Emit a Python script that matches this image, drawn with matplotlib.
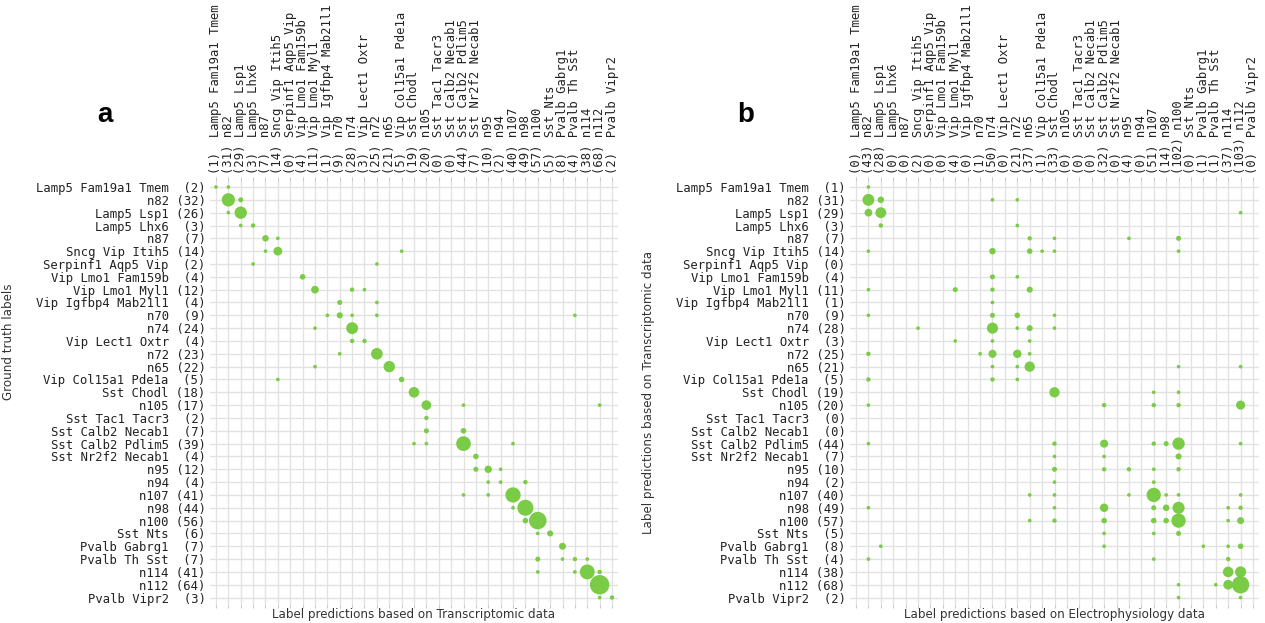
import matplotlib
matplotlib.use("Agg")
import matplotlib.pyplot as plt

names = ["Lamp5 Fam19a1 Tmem", "n82", "Lamp5 Lsp1", "Lamp5 Lhx6", "n87",
         "Sncg Vip Itih5", "Serpinf1 Aqp5 Vip", "Vip Lmo1 Fam159b", "Vip Lmo1 Myl1",
         "Vip Igfbp4 Mab21l1", "n70", "n74", "Vip Lect1 Oxtr", "n72", "n65",
         "Vip Col15a1 Pde1a", "Sst Chodl", "n105", "Sst Tac1 Tacr3", "Sst Calb2 Necab1",
         "Sst Calb2 Pdlim5", "Sst Nr2f2 Necab1", "n95", "n94", "n107", "n98", "n100",
         "Sst Nts", "Pvalb Gabrg1", "Pvalb Th Sst", "n114", "n112", "Pvalb Vipr2"]

truth_counts = [2, 32, 26, 3, 7, 14, 2, 4, 12, 4, 9, 24, 4, 23, 22, 5, 18, 17, 2, 7,
                39, 4, 12, 4, 41, 44, 56, 6, 7, 7, 41, 64, 3]
trans_counts = [1, 31, 29, 3, 7, 14, 0, 4, 11, 1, 9, 28, 3, 25, 21, 5, 19, 20, 0, 0,
                44, 7, 10, 2, 40, 49, 57, 5, 8, 4, 38, 68, 2]
ephys_counts = [0, 43, 28, 0, 0, 2, 0, 0, 4, 0, 1, 50, 0, 21, 37, 1, 33, 0, 0, 0,
                32, 0, 4, 0, 51, 14, 102, 0, 1, 1, 37, 103, 0]

# (column index, count) per row: ground truth (rows) vs transcriptomic prediction (cols)
cells_a = [
    [(0, 1), (1, 1)],
    [(1, 29), (2, 3)],
    [(1, 1), (2, 25)],
    [(2, 1), (3, 2)],
    [(4, 6), (5, 1)],
    [(4, 1), (5, 12), (15, 1)],
    [(3, 1), (13, 1)],
    [(7, 4)],
    [(8, 9), (11, 2), (12, 1)],
    [(10, 3), (13, 1)],
    [(9, 1), (10, 5), (11, 1), (13, 1), (29, 1)],
    [(8, 1), (11, 23)],
    [(11, 2), (12, 2)],
    [(10, 1), (13, 22)],
    [(8, 1), (14, 21)],
    [(5, 1), (15, 4)],
    [(16, 18)],
    [(17, 15), (20, 1), (31, 1)],
    [(17, 2)],
    [(17, 3), (20, 4)],
    [(16, 1), (17, 1), (20, 36), (24, 1)],
    [(21, 4)],
    [(21, 3), (22, 8), (23, 1)],
    [(22, 1), (23, 1), (25, 2)],
    [(20, 1), (22, 1), (24, 39)],
    [(24, 1), (25, 43)],
    [(25, 4), (26, 52)],
    [(26, 1), (27, 5)],
    [(28, 7)],
    [(26, 3), (28, 1), (29, 2), (30, 1)],
    [(26, 1), (29, 1), (30, 37), (31, 2)],
    [(31, 64)],
    [(31, 1), (32, 2)],
]

# transcriptomic prediction (rows) vs electrophysiology prediction (cols)
cells_b = [
    [(1, 1)],
    [(1, 23), (2, 6), (11, 1), (13, 1)],
    [(1, 9), (2, 19), (31, 1)],
    [(2, 2), (13, 1)],
    [(14, 2), (16, 1), (22, 1), (26, 3)],
    [(1, 1), (11, 6), (14, 4), (15, 1), (16, 1), (26, 1)],
    [],
    [(11, 3), (13, 1)],
    [(1, 1), (8, 3), (11, 2), (14, 5)],
    [(11, 1)],
    [(1, 1), (11, 3), (13, 4), (16, 1)],
    [(5, 1), (11, 20), (13, 1), (14, 5), (16, 1)],
    [(8, 1), (11, 1), (14, 1)],
    [(1, 2), (10, 1), (11, 10), (13, 11), (14, 1)],
    [(11, 1), (13, 1), (14, 17), (26, 1), (31, 1)],
    [(1, 2), (11, 2), (13, 1)],
    [(16, 17), (24, 1), (26, 1)],
    [(1, 1), (20, 2), (24, 2), (26, 2), (31, 13)],
    [],
    [],
    [(1, 1), (16, 2), (20, 10), (24, 2), (25, 3), (26, 25), (31, 1)],
    [(16, 1), (20, 1), (26, 5)],
    [(16, 3), (20, 2), (22, 2), (24, 1), (26, 2)],
    [(16, 1), (24, 1)],
    [(14, 1), (16, 1), (22, 1), (24, 34), (25, 1), (26, 1), (31, 1)],
    [(1, 1), (16, 1), (20, 11), (24, 3), (25, 6), (26, 24), (30, 1), (31, 2)],
    [(14, 1), (16, 2), (20, 4), (24, 4), (25, 4), (26, 34), (30, 1), (31, 7)],
    [(20, 1), (24, 1), (26, 3)],
    [(2, 1), (20, 1), (28, 1), (30, 1), (31, 4)],
    [(1, 1), (24, 1), (30, 2)],
    [(30, 18), (31, 20)],
    [(26, 1), (29, 1), (30, 15), (31, 51)],
    [(26, 1), (31, 1)],
]

W, H = 1265, 623
fig = plt.figure(figsize=(W / 100, H / 100), dpi=100)

DOT = "#7acb45"
GRID = "#e2e2e2"
TXT = "#222222"
MONO = "DejaVu Sans Mono"


def draw(ax, cells, row_counts, col_counts, xlabel, ylabel, ylab_y):
    xs, ys, ns = [], [], []
    for r, row in enumerate(cells):
        for c, n in row:
            xs.append(c)
            ys.append(r)
            ns.append(n)
    ax.scatter(xs, ys, s=[3.0 * n + 4 for n in ns], color=DOT, linewidths=0, zorder=3)
    k = len(names)
    ax.set_xlim(-0.5, k - 0.5)
    ax.set_ylim(k - 0.5, -0.5)
    ax.set_xticks(range(k))
    ax.set_yticks(range(k))
    ax.set_xticklabels([f"{'(' + str(n) + ')':<4} {nm}" for nm, n in zip(names, col_counts)],
                       rotation=90, family=MONO, fontsize=8.8, color=TXT)
    ax.set_yticklabels([f"{nm} {'(' + str(n) + ')':>4}" for nm, n in zip(names, row_counts)],
                       family=MONO, fontsize=8.8, color=TXT)
    ax.tick_params(axis="x", top=True, bottom=True, labeltop=True, labelbottom=False,
                   length=3, width=0.8, color="#cccccc", pad=2)
    ax.tick_params(axis="y", length=0, pad=3)
    ax.grid(True, color=GRID, linewidth=1.0, zorder=0)
    ax.set_axisbelow(True)
    for s in ax.spines.values():
        s.set_visible(False)
    ax.xaxis.set_label_position("bottom")
    ax.set_xlabel(xlabel, fontsize=8.6, color="#333333", labelpad=0)
    ax.set_ylabel(ylabel, fontsize=8.6, color="#333333")
    ax.yaxis.set_label_coords(-0.477, ylab_y)


axa = fig.add_axes([209.8 / W, 1 - 604 / H, 408.4 / W, 423.4 / H])
axb = fig.add_axes([849.8 / W, 1 - 604 / H, 409.4 / W, 423.4 / H])

draw(axa, cells_a, truth_counts, trans_counts,
     "Label predictions based on Transcriptomic data", "Ground truth labels", 0.62)
draw(axb, cells_b, trans_counts, ephys_counts,
     "Label predictions based on Electrophysiology data",
     "Label predictions based on Transcriptomic data", 0.5)

fig.text(105 / W, 1 - 115 / H, "a", fontsize=20, fontweight="bold", ha="center",
         va="center", family="Liberation Sans")
fig.text(746 / W, 1 - 115 / H, "b", fontsize=20, fontweight="bold", ha="center",
         va="center", family="Liberation Sans")

fig.savefig("out.png", dpi=100)
